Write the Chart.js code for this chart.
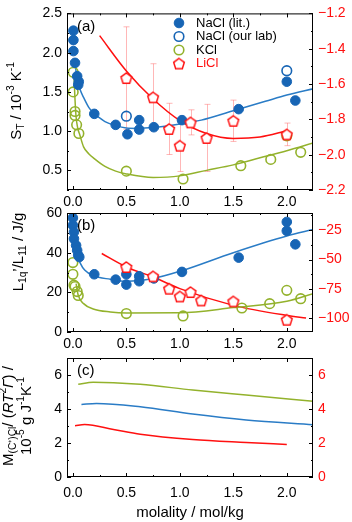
<!DOCTYPE html>
<html>
<head>
<meta charset="utf-8">
<script src="https://cdn.jsdelivr.net/npm/chart.js@4.4.1/dist/chart.umd.min.js"></script>
<style>
  html, body { margin: 0; padding: 0; background: #fff; }
  #wrap { position: relative; width: 352px; height: 522px; }
  canvas { position: absolute; left: 0; top: 0; }
</style>
</head>
<body>
<div id="wrap">
  <canvas id="chartA" width="352" height="522"></canvas>
  <canvas id="chartB" width="352" height="522"></canvas>
  <canvas id="chartC" width="352" height="522"></canvas>
</div>
<script>
// ---- data ----
// x axis (molality / mol/kg)
const xTicks = [0, 0.5, 1.0, 1.5, 2.0];

// (a) Soret coefficient S_T, left axis 10^-3 K^-1, LiCl on the right axis
const aTicksLeft = [0.5, 1.0, 1.5, 2.0, 2.5];
const aTicksRight = [-2.2, -2.0, -1.8, -1.6, -1.4, -1.2];
const aNaClLitM = [0.005, 0.005, 0.005, 0.02, 0.04, 0.055, 0.05, 0.2, 0.4, 0.51, 0.62, 0.62, 0.757, 1.02, 1.55, 2.0, 2.08];
const aNaClLitS = [2.28, 2.16, 2.02, 1.87, 1.70, 1.63, 1.59, 1.22, 1.08, 0.96, 1.02, 1.14, 1.05, 1.14, 1.28, 1.63, 1.39];
const aNaClLabM = [0.5, 2.0];
const aNaClLabS = [1.19, 1.77];
const aKClM = [0.003, 0.003, 0.02, 0.02, 0.035, 0.056, 0.5, 1.03, 1.57, 1.85, 2.0, 2.13];
const aKClS = [1.75, 1.50, 1.25, 1.20, 1.08, 0.97, 0.49, 0.39, 0.56, 0.64, 0.94, 0.73];
const aLiClM = [0.5, 0.75, 0.9, 1.0, 1.1, 1.25, 1.5, 2.0];
const aLiClS = [-1.566, -1.675, -1.854, -1.949, -1.817, -1.905, -1.808, -1.885];
const aLiClErr = [0.29, 0.19, 0.145, 0.146, 0.071, 0.19, 0.117, 0.064];
const aFitNaClM = [0.02, 0.03, 0.05, 0.07, 0.1, 0.15, 0.2, 0.25, 0.3, 0.4, 0.5, 0.6, 0.75, 1.0, 1.2, 1.5, 1.8, 2.0, 2.25];
const aFitNaClS = [1.89, 1.76, 1.62, 1.52, 1.43, 1.30, 1.22, 1.17, 1.12, 1.07, 1.04, 1.035, 1.045, 1.09, 1.14, 1.26, 1.38, 1.46, 1.54];
const aFitKClM = [0.01, 0.02, 0.03, 0.045, 0.065, 0.1, 0.15, 0.2, 0.3, 0.4, 0.5, 0.75, 1.0, 1.25, 1.5, 1.75, 2.0, 2.25];
const aFitKClS = [1.72, 1.40, 1.18, 1.04, 0.95, 0.80, 0.71, 0.65, 0.55, 0.49, 0.455, 0.41, 0.43, 0.50, 0.57, 0.66, 0.75, 0.85];
const aFitLiClM = [0.25, 0.5, 0.75, 1.0, 1.25, 1.5, 1.75, 2.0];
const aFitLiClS = [-1.326, -1.526, -1.685, -1.807, -1.88, -1.908, -1.90, -1.865];

// (b) L1q'/L11 in J/g, LiCl on the right axis
const bTicksLeft = [0, 20, 40, 60];
const bTicksRight = [-100, -75, -50, -25];
const bNaClM = [0.0, 0.0, 0.01, 0.01, 0.03, 0.04, 0.05, 0.06, 0.2, 0.4, 0.5, 0.5, 0.62, 0.62, 0.757, 1.02, 1.55, 2.0, 2.0, 2.08];
const bNaClL = [57.5, 53.8, 50.4, 47.0, 43.7, 41.2, 38.7, 37.8, 29.1, 26.4, 29.1, 23.9, 28.1, 25.6, 27.0, 30.3, 37.5, 55.5, 51.0, 44.2];
const bKClM = [0.0, 0.0, 0.01, 0.02, 0.04, 0.05, 0.5, 1.03, 1.58, 1.84, 2.0, 2.13];
const bKClL = [35.0, 29.1, 23.6, 22.9, 20.4, 18.4, 9.3, 8.1, 12.1, 14.3, 21.0, 16.8];
const bLiClM = [0.5, 0.75, 0.9, 1.0, 1.1, 1.2, 1.5, 2.0];
const bLiClL = [-56.3, -64.2, -74.7, -81.3, -77.6, -84.7, -85.5, -101.1];
const bFitNaClM = [0.03, 0.05, 0.07, 0.11, 0.19, 0.35, 0.5, 0.75, 1.0, 1.5, 2.0, 2.25];
const bFitNaClL = [45.0, 37.5, 34.6, 31.2, 28.4, 26.6, 25.6, 27.0, 30.6, 40.0, 48.4, 51.7];
const bFitKClM = [0.03, 0.05, 0.1, 0.19, 0.35, 0.5, 1.0, 1.5, 2.0, 2.25];
const bFitKClL = [24.4, 18.5, 14.3, 11.6, 10.1, 9.6, 9.7, 12.3, 15.5, 19.4];
const bFitLiClM = [0.27, 0.5, 0.75, 1.0, 1.5, 2.0, 2.18];
const bFitLiClL = [-44.9, -56.3, -64.8, -74.7, -88.9, -97.4, -99.6];

// (c) M(C+)Cl / (R T^2 Gamma'), 10^-5 g J^-1 K^-1
const cTicks = [0, 2, 4, 6];
const cKClM = [0.05, 0.19, 0.38, 0.63, 1.12, 1.62, 2.25];
const cKClV = [5.45, 5.57, 5.55, 5.45, 5.12, 4.82, 4.45];
const cNaClM = [0.08, 0.22, 0.63, 1.12, 1.62, 2.25];
const cNaClV = [4.27, 4.33, 4.13, 3.70, 3.35, 3.07];
const cLiClM = [0.02, 0.11, 0.38, 0.63, 1.12, 1.62, 2.0];
const cLiClV = [3.01, 3.09, 2.80, 2.52, 2.21, 2.03, 1.91];

// ---- styling ----
const BLUE = '#1765b5';
const BLUE_LINE = '#2a7cc6';
const GREEN = '#93b22c';
const RED = '#ff1010';
const ERR = 'rgba(255, 95, 95, 0.45)';
const FONT = "'Liberation Sans', Arial, sans-serif";
Chart.defaults.font.family = FONT;
Chart.defaults.color = '#000';

const pts = (xs, ys) => xs.map((x, i) => ({ x: x, y: ys[i] }));
const minus = s => s.replace('-', '\u2212');

function pentagon(r, lw) {
  const c = document.createElement('canvas');
  const s = Math.ceil(2 * r + lw + 3);
  c.width = s; c.height = s;
  const g = c.getContext('2d');
  g.beginPath();
  for (let k = 0; k < 5; k++) {
    const a = -Math.PI / 2 + k * 2 * Math.PI / 5;
    const px = s / 2 + r * Math.cos(a), py = s / 2 + 0.6 + r * Math.sin(a);
    k ? g.lineTo(px, py) : g.moveTo(px, py);
  }
  g.closePath();
  g.fillStyle = '#fff'; g.fill();
  g.lineWidth = lw; g.strokeStyle = RED; g.stroke();
  return c;
}
const PENTA = pentagon(5.6, 1.5);

// rich text (sub/superscripts) for the axis titles
function richWidth(ctx, segs, size) {
  let w = 0;
  segs.forEach(sg => {
    const fs = sg.s ? size * 0.68 : size;
    ctx.font = (sg.i ? 'italic ' : '') + fs + 'px ' + FONT;
    w += ctx.measureText(sg.t).width;
  });
  return w;
}
function drawRich(ctx, segs, x, y, size, rot, color) {
  ctx.save();
  ctx.translate(x, y);
  if (rot) ctx.rotate(-Math.PI / 2);
  ctx.fillStyle = color || '#000';
  ctx.textBaseline = 'middle';
  ctx.textAlign = 'left';
  let px = -richWidth(ctx, segs, size) / 2;
  segs.forEach(sg => {
    const fs = sg.s ? size * 0.68 : size;
    ctx.font = (sg.i ? 'italic ' : '') + fs + 'px ' + FONT;
    const dy = sg.s === 'sub' ? size * 0.3 : sg.s === 'sup' ? -size * 0.38 : 0;
    ctx.fillText(sg.t, px, dy);
    px += ctx.measureText(sg.t).width;
  });
  ctx.restore();
}

const decor = {
  id: 'decor',
  beforeDatasetsDraw(chart, args, opts) {
    const ctx = chart.ctx;
    (opts.errors || []).forEach(eb => {
      const meta = chart.getDatasetMeta(eb.dataset);
      const ys = chart.scales[meta.yAxisID];
      const data = chart.data.datasets[eb.dataset].data;
      ctx.save();
      ctx.strokeStyle = ERR;
      ctx.lineWidth = 1;
      meta.data.forEach((el, i) => {
        const x = Math.round(el.x) + 0.5;
        const y1 = ys.getPixelForValue(data[i].y + eb.values[i]);
        const y2 = ys.getPixelForValue(data[i].y - eb.values[i]);
        ctx.beginPath();
        ctx.moveTo(x, y1); ctx.lineTo(x, y2);
        ctx.moveTo(x - 3, y1); ctx.lineTo(x + 3, y1);
        ctx.moveTo(x - 3, y2); ctx.lineTo(x + 3, y2);
        ctx.stroke();
      });
      ctx.restore();
    });
  },
  afterDraw(chart, args, opts) {
    const { ctx, chartArea: a, scales } = chart;
    ctx.save();
    ctx.strokeStyle = '#000';
    ctx.lineWidth = 1;
    ctx.strokeRect(a.left + 0.5, a.top + 0.5, a.right - a.left - 1, a.bottom - a.top - 1);
    const marks = (scale, minor, fn) => {
      const majors = scale.ticks.map(t => t.value);
      const n0 = Math.ceil(scale.min / minor - 1e-6), n1 = Math.floor(scale.max / minor + 1e-6);
      for (let n = n0; n <= n1; n++) {
        const v = n * minor;
        const isMajor = majors.some(m => Math.abs(m - v) < minor / 10);
        fn(Math.round(scale.getPixelForValue(v)) + 0.5, isMajor ? 4 : 2);
      }
    };
    ctx.beginPath();
    marks(scales.x, 0.25, (p, l) => {
      ctx.moveTo(p, a.bottom); ctx.lineTo(p, a.bottom - l);
      ctx.moveTo(p, a.top); ctx.lineTo(p, a.top + l);
    });
    marks(scales.y, opts.yMinor, (p, l) => {
      ctx.moveTo(a.left, p); ctx.lineTo(a.left + l, p);
    });
    marks(scales.y2, opts.y2Minor, (p, l) => {
      ctx.moveTo(a.right, p); ctx.lineTo(a.right - l, p);
    });
    ctx.stroke();

    // panel label
    ctx.fillStyle = '#000';
    ctx.font = '15px ' + FONT;
    ctx.textBaseline = 'middle';
    ctx.textAlign = 'left';
    ctx.fillText(opts.panel, a.left + 10, a.top + 13);

    // axis titles
    (opts.titles || []).forEach(t => drawRich(ctx, t.segs, t.x, t.y, t.size, true, '#000'));

    // legend
    if (opts.legend) {
      const L = opts.legend;
      chart.data.datasets.filter(d => d.legend).forEach((d, i) => {
        const y = L.y + i * L.step;
        if (d.pointStyle === PENTA) {
          ctx.drawImage(PENTA, L.x - PENTA.width / 2, y - PENTA.height / 2);
        } else {
          ctx.beginPath();
          ctx.arc(L.x, y, d.pointRadius, 0, 2 * Math.PI);
          ctx.fillStyle = d.backgroundColor;
          ctx.fill();
          ctx.lineWidth = d.borderWidth;
          ctx.strokeStyle = d.borderColor;
          ctx.stroke();
        }
        ctx.font = '13px ' + FONT;
        ctx.fillStyle = d.labelColor || '#000';
        ctx.textBaseline = 'middle';
        ctx.fillText(d.label, L.x + 17, y);
      });
    }
    ctx.restore();
  }
};

function xScale(h, pad) {
  return {
    type: 'linear', position: 'bottom', min: -0.055, max: 2.245,
    afterBuildTicks: s => { s.ticks = xTicks.map(v => ({ value: v })); },
    afterFit: s => { s.height = h; },
    grid: { display: false, drawTicks: false },
    border: { display: false },
    ticks: { font: { size: 14 }, padding: pad, maxRotation: 0, callback: v => v.toFixed(1) }
  };
}
function yScale(pos, min, max, ticks, fmt, color) {
  return {
    type: 'linear', position: pos, min: min, max: max,
    afterBuildTicks: s => { s.ticks = ticks.map(v => ({ value: v })); },
    afterFit: s => { s.width = pos === 'left' ? 67 : 39; },
    grid: { display: false, drawTicks: false },
    border: { display: false },
    ticks: { font: { size: 14 }, color: color, padding: 5, callback: fmt }
  };
}
function dots(label, xs, ys, axis, color, filled, order) {
  return {
    label: label, data: pts(xs, ys), yAxisID: axis, legend: true, order: order,
    pointRadius: 4.8, pointHoverRadius: 4.8,
    backgroundColor: filled ? color : 'rgba(0,0,0,0)', borderColor: color,
    borderWidth: filled ? 1 : 1.6, showLine: false
  };
}
function penta(label, xs, ys, order) {
  return {
    label: label, data: pts(xs, ys), yAxisID: 'y2', legend: true, order: order,
    pointStyle: PENTA, pointRadius: 6, labelColor: RED, showLine: false,
    backgroundColor: '#fff', borderColor: RED, borderWidth: 1.5
  };
}
function curve(xs, ys, axis, color) {
  return {
    data: pts(xs, ys), yAxisID: axis, showLine: true, pointRadius: 0, order: 10,
    borderColor: color, borderWidth: 1.5, cubicInterpolationMode: 'monotone', fill: false
  };
}
const fmt1 = v => minus(v.toFixed(1));
const fmt0 = v => minus(String(v));

function base(padTop, padBottom) {
  return {
    responsive: false, animation: false, devicePixelRatio: 1,
    layout: { padding: { top: padTop, bottom: padBottom, left: 0, right: 0 } },
    plugins: { legend: { display: false }, tooltip: { enabled: false } }
  };
}

// (a)
const optA = base(7, 310);
optA.scales = {
  x: xScale(22, 4),
  y: yScale('left', 0.25, 2.5, aTicksLeft, fmt1, '#000'),
  y2: yScale('right', -2.2, -1.2, aTicksRight, fmt1, RED)
};
optA.plugins.decor = {
  panel: '(a)', yMinor: 0.25, y2Minor: 0.1,
  errors: [{ dataset: 3, values: aLiClErr }],
  legend: { x: 179, y: 23, step: 13.5 },
  titles: [{ x: 17, y: 101, size: 15, segs: [
    { t: 'S' }, { t: 'T', s: 'sub' }, { t: ' / 10' }, { t: '-3', s: 'sup' }, { t: ' K' }, { t: '-1', s: 'sup' }] }]
};
new Chart(document.getElementById('chartA'), {
  type: 'scatter',
  data: { datasets: [
    dots('NaCl (lit.)', aNaClLitM, aNaClLitS, 'y', BLUE, true, 2),
    dots('NaCl (our lab)', aNaClLabM, aNaClLabS, 'y', BLUE, false, 3),
    dots('KCl', aKClM, aKClS, 'y', GREEN, false, 4),
    penta('LiCl', aLiClM, aLiClS, 1),
    curve(aFitNaClM, aFitNaClS, 'y', BLUE_LINE),
    curve(aFitKClM, aFitKClS, 'y', GREEN),
    curve(aFitLiClM, aFitLiClS, 'y2', RED)
  ] },
  options: optA,
  plugins: [decor]
});

// (b)
const optB = base(213, 168);
optB.scales = {
  x: xScale(22, 4),
  y: yScale('left', 0, 60, bTicksLeft, fmt0, '#000'),
  y2: yScale('right', -111.5, -10.5, bTicksRight, fmt0, RED)
};
optB.plugins.decor = {
  panel: '(b)', yMinor: 10, y2Minor: 12.5,
  titles: [{ x: 19, y: 252, size: 15, segs: [
    { t: 'L' }, { t: '1q', s: 'sub' }, { t: '\u2019/L' }, { t: '11', s: 'sub' }, { t: ' / J/g' }] }]
};
new Chart(document.getElementById('chartB'), {
  type: 'scatter',
  data: { datasets: [
    dots('NaCl (lit.)', bNaClM, bNaClL, 'y', BLUE, true, 2),
    dots('KCl', bKClM, bKClL, 'y', GREEN, false, 4),
    penta('LiCl', bLiClM, bLiClL, 1),
    curve(bFitNaClM, bFitNaClL, 'y', BLUE_LINE),
    curve(bFitKClM, bFitKClL, 'y', GREEN),
    curve(bFitLiClM, bFitLiClL, 'y2', RED)
  ] },
  options: optB,
  plugins: [decor]
});

// (c)
const optC = base(358, 0);
optC.scales = {
  x: xScale(45, 8),
  y: yScale('left', 0, 7, cTicks, fmt0, '#000'),
  y2: yScale('right', 0, 7, cTicks, fmt0, RED)
};
optC.scales.x.title = { display: true, text: 'molality / mol/kg', font: { size: 15 }, padding: { top: 2, bottom: 0 } };
optC.plugins.decor = {
  panel: '(c)', yMinor: 1, y2Minor: 1,
  titles: [
    { x: 9, y: 416, size: 15, segs: [
      { t: 'M' }, { t: '(C\u207A)Cl', s: 'sub' }, { t: '/ (' }, { t: 'RT', i: true }, { t: '2', s: 'sup' }, { t: '\u0393', i: true }, { t: ') /' }] },
    { x: 27, y: 416, size: 15, segs: [
      { t: '10' }, { t: '-5', s: 'sup' }, { t: ' g J' }, { t: '-1', s: 'sup' }, { t: 'K' }, { t: '-1', s: 'sup' }] }
  ]
};
new Chart(document.getElementById('chartC'), {
  type: 'scatter',
  data: { datasets: [
    curve(cKClM, cKClV, 'y', GREEN),
    curve(cNaClM, cNaClV, 'y', BLUE_LINE),
    curve(cLiClM, cLiClV, 'y2', RED)
  ] },
  options: optC,
  plugins: [decor]
});
</script>
</body>
</html>
